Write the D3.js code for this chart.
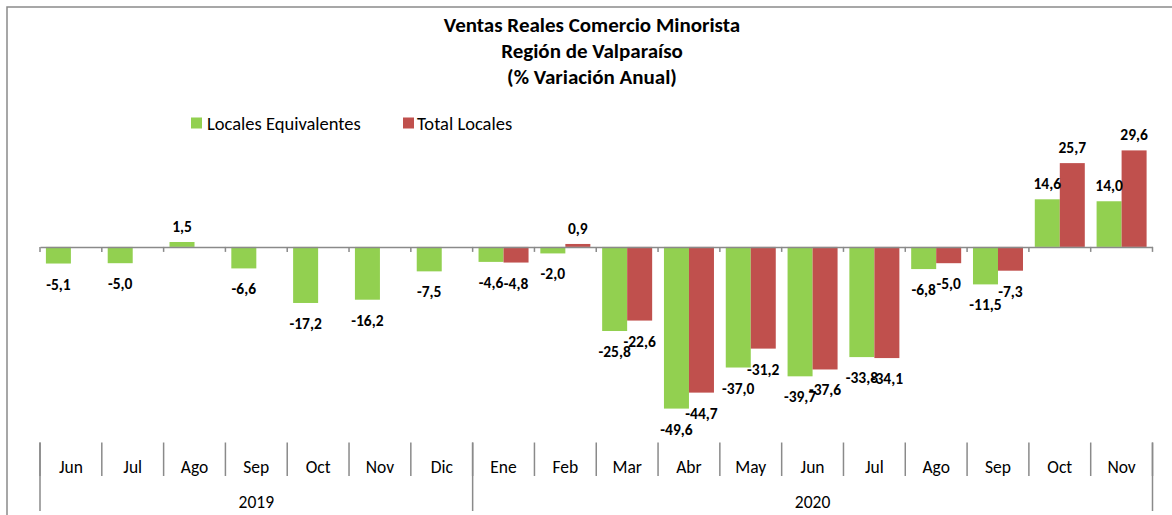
<!DOCTYPE html>
<html>
<head>
<meta charset="utf-8">
<script src="https://cdn.jsdelivr.net/npm/d3@7"></script>
<style>
  html, body { margin: 0; padding: 0; background: #fff; }
  svg { display: block; }
  text { font-family: Calibri, Carlito, Lato, "Open Sans", sans-serif; fill: #000; }
</style>
</head>
<body>
<svg id="chart" width="1172" height="515"></svg>
<script>
// ---- data ----
const months = ["Jun","Jul","Ago","Sep","Oct","Nov","Dic","Ene","Feb","Mar","Abr","May","Jun","Jul","Ago","Sep","Oct","Nov"];
const years = [{label: "2019", from: 0, to: 7}, {label: "2020", from: 7, to: 18}];
const localesEquivalentes = [-5.1, -5.0, 1.5, -6.6, -17.2, -16.2, -7.5, -4.6, -2.0, -25.8, -49.6, -37.0, -39.7, -33.8, -6.8, -11.5, 14.6, 14.0];
const totalLocales = [null, null, null, null, null, null, null, -4.8, 0.9, -22.6, -44.7, -31.2, -37.6, -34.1, -5.0, -7.3, 25.7, 29.6];
const seriesNames = ["Locales Equivalentes", "Total Locales"];
const seriesColors = ["#92D050", "#C0504D"];
const titleLines = ["Ventas Reales Comercio Minorista", "Región de Valparaíso", "(% Variación Anual)"];
const yDomain = [-60, 40];

// ---- setup ----
const svg = d3.select("#chart");
const pL = 40, pR = 1152.5, pT = 116.5, pB = 442.5;

const loc = d3.formatLocale({decimal: ",", thousands: ".", grouping: [3], currency: ["", ""], minus: "-"});
const fmt = loc.format(".1f");

const x0 = d3.scaleBand().domain(d3.range(months.length)).range([pL, pR]).paddingInner(0).paddingOuter(0);
const x1 = d3.scaleBand().domain([0, 1]).range([0, x0.bandwidth()]).paddingInner(0).paddingOuter(0.236);
const y = d3.scaleLinear().domain(yDomain).range([pB, pT]);

// outer chart border
svg.append("rect").attr("x", 7).attr("y", 7).attr("width", 1300).attr("height", 700)
  .attr("fill", "none").attr("stroke", "#8a8a8a").attr("stroke-width", 1.5);

// title
const title = svg.append("text").attr("text-anchor", "middle").attr("font-weight", "bold").attr("font-size", 21);
titleLines.forEach((t, i) => {
  title.append("tspan").attr("x", 592).attr("y", 32 + i * 26).text(t);
});

// legend
const legendItems = [{x: 191, tx: 207}, {x: 403, tx: 417}];
seriesNames.forEach((n, i) => {
  svg.append("rect").attr("x", legendItems[i].x).attr("y", 117.5).attr("width", 11).attr("height", 11)
    .attr("fill", seriesColors[i]);
  svg.append("text").attr("x", legendItems[i].tx).attr("y", 129.5).attr("font-size", 18.5).text(n);
});

// bars
const data = [];
months.forEach((m, i) => {
  [localesEquivalentes[i], totalLocales[i]].forEach((v, s) => {
    if (v !== null) data.push({i, s, v});
  });
});

svg.append("g").selectAll("rect").data(data).join("rect")
  .attr("x", d => x0(d.i) + x1(d.s))
  .attr("width", x1.bandwidth())
  .attr("y", d => y(Math.max(0, d.v)))
  .attr("height", d => Math.abs(y(d.v) - y(0)))
  .attr("fill", d => seriesColors[d.s]);

// zero axis line with ticks
const zeroAxis = d3.axisBottom(x0).tickSize(0).tickFormat("");
const axisG = svg.append("g").attr("transform", `translate(0,${y(0)})`).call(zeroAxis);
axisG.select(".domain").attr("stroke", "#8a8a8a").attr("stroke-width", 1.5);
const boundaries = d3.range(months.length + 1).map(i => i < months.length ? x0(i) : pR);
axisG.selectAll("line.bt").data(boundaries).join("line").attr("class", "bt")
  .attr("x1", d => d).attr("x2", d => d).attr("y1", 0).attr("y2", 5)
  .attr("stroke", "#8a8a8a").attr("stroke-width", 1.5);

// data labels
svg.append("g").selectAll("text").data(data).join("text")
  .attr("x", d => x0(d.i) + x1(d.s) + x1.bandwidth() / 2)
  .attr("y", d => d.v >= 0 ? y(d.v) - 10 : y(d.v) + 26)
  .attr("text-anchor", "middle")
  .attr("font-weight", "bold")
  .attr("font-size", 15.5)
  .text(d => fmt(d.v));

// category axis (low position) : month labels + separators
const catG = svg.append("g");
catG.selectAll("line.ms").data(boundaries).join("line").attr("class", "ms")
  .attr("x1", d => d).attr("x2", d => d).attr("y1", pB).attr("y2", 476)
  .attr("stroke", "#8a8a8a").attr("stroke-width", 1.5);
catG.selectAll("text.m").data(months).join("text").attr("class", "m")
  .attr("x", (d, i) => x0(i) + x0.bandwidth() / 2)
  .attr("y", 473)
  .attr("text-anchor", "middle")
  .attr("font-size", 17.5)
  .text(d => d);

// year labels + separators
const yearBounds = [0, 7, 18].map(i => i < months.length ? x0(i) : pR);
catG.selectAll("line.ys").data(yearBounds).join("line").attr("class", "ys")
  .attr("x1", d => d).attr("x2", d => d).attr("y1", pB).attr("y2", 511)
  .attr("stroke", "#8a8a8a").attr("stroke-width", 1.5);
catG.selectAll("text.y").data(years).join("text").attr("class", "y")
  .attr("x", d => ((d.from < months.length ? x0(d.from) : pR) + (d.to < months.length ? x0(d.to) : pR)) / 2)
  .attr("y", 508)
  .attr("text-anchor", "middle")
  .attr("font-size", 17.5)
  .text(d => d.label);
</script>
</body>
</html>
